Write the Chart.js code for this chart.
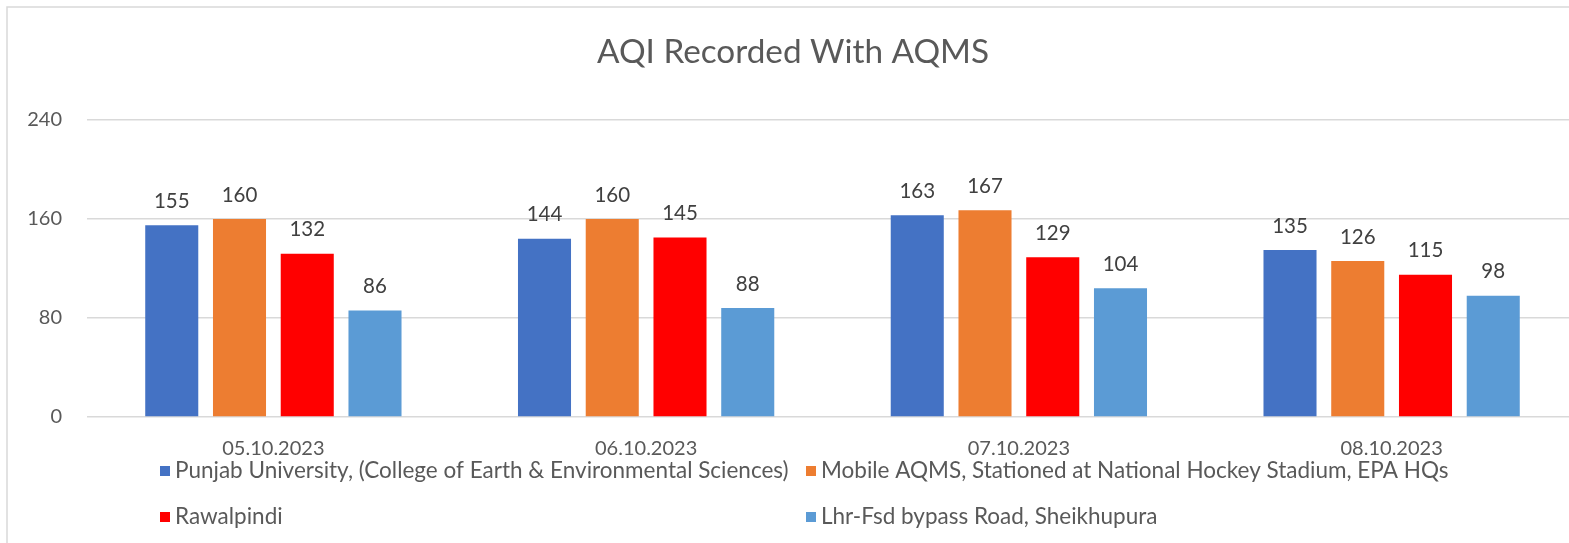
<!DOCTYPE html>
<html>
<head>
<meta charset="utf-8">
<script src="https://cdn.jsdelivr.net/npm/chart.js@4/dist/chart.umd.min.js"></script>
<style>
html,body{margin:0;padding:0;background:#fff;}
#wrap{width:1569px;height:543px;overflow:hidden;position:relative;}
canvas{display:block;}
</style>
</head>
<body>
<div id="wrap"><canvas id="c" width="1592" height="543"></canvas></div>
<script>
const title = "AQI Recorded With AQMS";
const categories = ["05.10.2023", "06.10.2023", "07.10.2023", "08.10.2023"];
const seriesNames = [
  "Punjab University, (College of Earth & Environmental Sciences)",
  "Mobile AQMS, Stationed at National Hockey Stadium, EPA HQs",
  "Rawalpindi",
  "Lhr-Fsd bypass Road, Sheikhupura"
];
const punjabUniversity = [155, 144, 163, 135];
const mobileAQMS = [160, 160, 167, 126];
const rawalpindi = [132, 145, 129, 115];
const sheikhupura = [86, 88, 104, 98];
const yTicks = [0, 80, 160, 240];
const colors = ["#4472C4", "#ED7D31", "#FF0000", "#5B9BD5"];

const FONT = "Lato, 'Open Sans', sans-serif";
const TXT = "#595959";
const CANVAS_W = 1592;
const AREA = {left: 87, right: 1578, top: 120, bottom: 417};

const values = [punjabUniversity, mobileAQMS, rawalpindi, sheikhupura];

const chromePlugin = {
  id: "chrome",
  beforeDraw(chart) {
    const ctx = chart.ctx;
    ctx.save();
    ctx.fillStyle = "#fff";
    ctx.fillRect(0, 0, chart.width, chart.height);
    ctx.strokeStyle = "#d9d9d9";
    ctx.lineWidth = 1.5;
    ctx.beginPath();
    ctx.moveTo(7, chart.height);
    ctx.lineTo(7, 7);
    ctx.lineTo(chart.width, 7);
    ctx.stroke();
    ctx.restore();
  },
  afterDraw(chart) {
    const ctx = chart.ctx;
    ctx.save();
    // title
    ctx.fillStyle = TXT;
    ctx.textAlign = "center";
    ctx.textBaseline = "middle";
    ctx.font = "30px " + FONT;
    let w = ctx.measureText(title).width;
    let size = 30 * 392 / w;
    ctx.font = size.toFixed(1) + "px " + FONT;
    ctx.fillText(title, 793, 52);

    // data labels
    ctx.fillStyle = "#404040";
    ctx.font = "20.5px " + FONT;
    chart.data.datasets.forEach((ds, di) => {
      const meta = chart.getDatasetMeta(di);
      meta.data.forEach((bar, i) => {
        ctx.fillText(String(ds.data[i]), bar.x, bar.y - 24);
      });
    });

    // legend
    ctx.font = "20px " + FONT;
    let lw = ctx.measureText(seriesNames[0]).width;
    let ls = 20 * 613 / lw;
    ctx.font = ls.toFixed(1) + "px " + FONT;
    ctx.textAlign = "left";
    const pos = [[160, 471], [806, 471], [160, 517], [806, 517]];
    chart.data.datasets.forEach((ds, di) => {
      const [x, y] = pos[di];
      ctx.fillStyle = ds.backgroundColor;
      ctx.fillRect(x, y - 5, 10, 10);
      ctx.fillStyle = TXT;
      ctx.fillText(ds.label, x + 15, y);
    });
    ctx.restore();
  }
};

new Chart(document.getElementById("c"), {
  type: "bar",
  data: {
    labels: categories,
    datasets: values.map((v, i) => ({
      label: seriesNames[i],
      data: v,
      backgroundColor: colors[i],
      borderWidth: 0,
      categoryPercentage: 0.727,
      barPercentage: 0.783
    }))
  },
  options: {
    responsive: false,
    animation: false,
    devicePixelRatio: 1,
    layout: {padding: {left: 0, top: AREA.top, right: CANVAS_W - AREA.right, bottom: 0}},
    plugins: {legend: {display: false}, title: {display: false}, tooltip: {enabled: false}},
    scales: {
      x: {
        grid: {display: false, drawTicks: false},
        border: {display: false},
        ticks: {color: TXT, font: {family: FONT, size: 20}, padding: 20, maxRotation: 0},
        afterFit(s) { s.height = 543 - AREA.bottom; }
      },
      y: {
        min: 0, max: 240,
        afterBuildTicks(s) { s.ticks = yTicks.map(v => ({value: v})); },
        grid: {color: "#d9d9d9", lineWidth: 1.5, drawTicks: false},
        border: {display: false},
        ticks: {color: TXT, font: {family: FONT, size: 20}, padding: 25},
        afterFit(s) { s.width = AREA.left; }
      }
    }
  },
  plugins: [chromePlugin]
});
</script>
</body>
</html>
